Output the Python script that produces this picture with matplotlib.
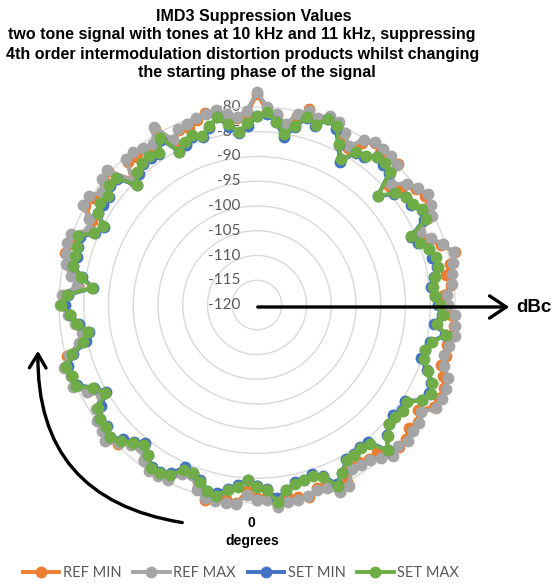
import numpy as np
import matplotlib
matplotlib.use('Agg')
import matplotlib.pyplot as plt
from matplotlib import transforms
from matplotlib.patches import FancyArrowPatch
from matplotlib.lines import Line2D

# starting phase of the signal (degrees), one point every 3 degrees
phase = np.arange(0, 360, 3)

# IMD3 suppression in dBc
ref_min = [-81.1, -82.4, -79.7, -80.4, -80.1, -79.3, -81.3, -83.6, -83.0, -81.0,
           -80.6, -80.6, -81.2, -83.6, -82.5, -80.3, -79.4, -80.6, -80.4, -81.6,
           -84.1, -82.2, -79.6, -79.9, -79.3, -80.3, -83.8, -85.4, -83.3, -82.1,
           -80.4, -81.3, -83.7, -83.0, -81.0, -79.8, -80.2, -80.9, -83.1, -82.5,
           -79.9, -80.4, -81.4, -80.7, -79.6, -84.2, -81.0, -81.5, -81.1, -82.0,
           -78.9, -83.3, -81.2, -81.8, -80.7, -79.8, -80.3, -82.2, -82.1, -81.4,
           -77.3, -80.8, -81.5, -84.0, -81.0, -79.1, -80.8, -79.7, -79.8, -81.7,
           -83.4, -81.0, -79.5, -80.5, -80.0, -79.7, -84.1, -82.2, -80.2, -79.5,
           -79.8, -81.2, -84.1, -83.3, -80.9, -78.6, -80.2, -81.3, -80.6, -82.2,
           -81.9, -80.7, -79.9, -80.4, -80.8, -80.5, -80.9, -79.8, -78.6, -78.8,
           -78.6, -81.2, -79.8, -80.5, -79.5, -79.3, -79.6, -81.5, -81.5, -82.1,
           -82.2, -79.8, -78.8, -81.3, -81.1, -79.8, -80.3, -80.9, -79.3, -81.2]
ref_max = [-80.7, -81.6, -79.5, -79.4, -79.6, -79.6, -80.7, -83.2, -82.7, -80.3,
           -80.2, -79.9, -81.0, -82.7, -82.0, -80.6, -78.8, -79.7, -80.1, -81.3,
           -83.7, -81.4, -79.4, -79.7, -78.9, -80.6, -83.2, -84.3, -83.0, -81.8,
           -80.2, -80.5, -83.5, -82.0, -80.5, -80.1, -79.6, -79.7, -82.8, -81.8,
           -79.5, -79.6, -81.2, -79.7, -79.1, -84.5, -80.4, -80.3, -80.8, -81.3,
           -78.5, -82.5, -81.0, -80.8, -80.2, -80.1, -79.7, -81.0, -81.8, -80.7,
           -77.0, -80.0, -81.3, -83.0, -80.5, -79.4, -80.2, -79.0, -79.5, -81.0,
           -83.0, -80.2, -79.3, -79.5, -79.5, -80.0, -83.5, -81.0, -79.9, -78.8,
           -79.4, -80.4, -83.9, -82.3, -80.4, -78.9, -79.6, -80.1, -80.3, -81.5,
           -81.5, -79.9, -79.7, -79.4, -80.3, -80.8, -80.3, -78.6, -78.3, -78.1,
           -78.2, -80.4, -79.6, -79.5, -79.0, -79.6, -79.0, -80.3, -81.2, -81.4,
           -81.8, -79.0, -78.6, -80.3, -80.6, -80.1, -79.7, -79.7, -79.0, -80.5]
set_min = [-83.5, -84.6, -83.5, -82.4, -81.2, -81.2, -82.9, -83.7, -84.2, -81.8,
           -81.0, -81.0, -82.5, -84.2, -82.8, -81.7, -80.1, -81.1, -80.8, -82.4,
           -84.8, -83.1, -80.3, -80.0, -79.9, -81.6, -84.7, -85.6, -83.9, -82.2,
           -81.2, -81.8, -86.7, -84.3, -82.0, -82.4, -82.0, -81.8, -84.1, -85.4,
           -83.0, -82.8, -83.0, -81.7, -81.9, -85.7, -84.4, -83.3, -83.4, -83.6,
           -81.4, -85.2, -84.7, -83.6, -84.4, -82.9, -81.2, -83.5, -85.0, -83.8,
           -81.9, -81.4, -82.8, -85.7, -83.3, -80.8, -82.0, -79.8, -81.0, -83.7,
           -86.6, -83.3, -83.1, -81.5, -82.0, -82.3, -87.2, -84.3, -82.9, -83.0,
           -81.6, -82.2, -86.0, -85.2, -83.4, -83.3, -82.9, -83.8, -84.6, -84.0,
           -83.5, -82.6, -84.0, -81.5, -84.2, -84.8, -85.2, -83.3, -81.5, -80.9,
           -81.6, -84.4, -83.8, -84.6, -84.1, -83.0, -80.5, -84.5, -84.5, -84.1,
           -84.1, -82.0, -80.5, -83.0, -84.2, -83.5, -83.4, -82.2, -80.7, -82.8]
set_max = [-83.2, -84.6, -83.0, -82.2, -80.6, -81.1, -82.5, -83.7, -83.5, -81.5,
           -80.8, -80.7, -82.5, -83.7, -82.6, -81.1, -80.0, -80.7, -80.8, -81.7,
           -84.5, -82.9, -80.0, -80.0, -79.4, -81.4, -84.1, -85.5, -83.5, -82.2,
           -80.5, -81.5, -86.5, -84.0, -82.0, -81.9, -81.8, -81.2, -84.0, -85.0,
           -83.0, -82.1, -82.7, -81.5, -81.6, -85.7, -83.9, -83.1, -82.8, -83.5,
           -81.0, -85.2, -84.0, -83.3, -84.2, -82.6, -81.2, -83.0, -84.8, -83.2,
           -81.8, -81.0, -82.8, -85.0, -83.0, -80.6, -81.7, -79.8, -80.5, -83.5,
           -86.0, -83.2, -82.7, -81.5, -81.3, -82.0, -87.0, -84.0, -82.9, -82.5,
           -81.4, -81.6, -85.9, -84.8, -83.4, -82.6, -82.6, -83.6, -84.3, -84.0,
           -83.0, -82.4, -83.4, -81.4, -83.8, -84.8, -84.5, -83.0, -81.3, -80.6,
           -81.6, -83.9, -83.6, -84.0, -84.0, -82.6, -80.5, -83.8, -84.2, -83.9,
           -83.8, -82.0, -80.0, -82.8, -83.6, -83.4, -83.0, -82.2, -80.0, -82.5]

series_names = ['REF MIN', 'REF MAX', 'SET MIN', 'SET MAX']
series = [ref_min, ref_max, set_min, set_max]
colors = ['#ED7D31', '#A5A5A5', '#4472C4', '#70AD47']
rings = [-120, -115, -110, -105, -100, -95, -90, -85, -80]

title_lines = ['IMD3 Suppression Values',
               'two tone signal with tones at 10 kHz and 11 kHz, suppressing',
               '4th order intermodulation distortion products whilst changing',
               'the starting phase of the signal']

W, H = 555, 584
fig = plt.figure(figsize=(W / 100, H / 100), dpi=100)

# radar area: centre and radius in pixels
cx, cy, R = 257, 305, 198
ax = fig.add_axes([(cx - R) / W, (H - cy - R) / H, 2 * R / W, 2 * R / H],
                  projection='polar')
ax.set_theta_zero_location('S')
ax.set_theta_direction(-1)
ax.set_ylim(-120, -80)
ax.set_xticks([])
ax.set_yticks(rings[1:-1])
ax.set_yticklabels([])
ax.yaxis.grid(True, color='#D9D9D9', lw=1)
ax.spines['polar'].set_color('#D9D9D9')
ax.spines['polar'].set_linewidth(1)

# ring labels up the vertical axis
off = transforms.offset_copy(ax.transData, fig=fig, x=-17, y=0, units='dots')
for v in rings:
    ax.text(np.pi, v, str(v), transform=off, ha='right', va='center',
            fontsize=11, color='#595959', family='Lato', zorder=2)

theta = np.radians(np.append(phase, phase[0]))
for i, (vals, c) in enumerate(zip(series, colors)):
    r = np.append(vals, vals[0])
    ax.plot(theta, r, '-o', color=c, lw=2.8, ms=7.5, clip_on=False, zorder=3 + i)

# title
title_x = [254, 242, 243, 257]
title_y = [16, 35, 54, 73]
for txt, x, y in zip(title_lines, title_x, title_y):
    fig.text(x / W, 1 - y / H, txt, ha='center', va='center', fontsize=11.5,
             fontweight='bold', family='Liberation Sans')

# dBc arrow
fig.add_artist(FancyArrowPatch((255 / W, 1 - 307 / H), (512 / W, 1 - 307 / H),
                               transform=fig.transFigure, color='black', lw=2.4,
                               arrowstyle='->,head_length=1.2,head_width=0.8',
                               mutation_scale=10))
fig.text(516 / W, 1 - 307 / H, 'dBc', ha='left', va='center', fontsize=13.5,
         fontweight='bold', family='Liberation Sans')

# phase direction arrow
fig.add_artist(FancyArrowPatch((185 / W, 1 - 523 / H), (38 / W, 1 - 348 / H),
                               transform=fig.transFigure, color='black', lw=2.4,
                               connectionstyle='arc3,rad=-0.44',
                               arrowstyle='->,head_length=1.0,head_width=0.6',
                               mutation_scale=10))
fig.text(251 / W, 1 - 523 / H, '0', ha='center', va='center', fontsize=10,
         fontweight='bold', family='Liberation Sans')
fig.text(252 / W, 1 - 541 / H, 'degrees', ha='center', va='center', fontsize=10,
         fontweight='bold', family='Liberation Sans')

handles = [Line2D([], [], color=c, marker='o', lw=2.8, ms=7.5) for c in colors]
fig.legend(handles, series_names, loc='center', bbox_to_anchor=(241 / W, 1 - 573 / H),
           ncol=4, frameon=False, handlelength=2.5, columnspacing=0.8,
           handletextpad=0.25, prop={'family': 'Lato', 'size': 10.5},
           labelcolor='#595959')

fig.savefig('out.png', dpi=100)
